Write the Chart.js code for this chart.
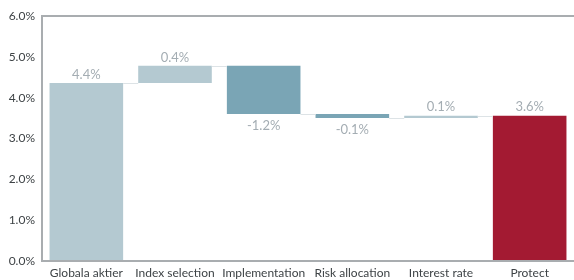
<!DOCTYPE html>
<html>
<head>
<meta charset="utf-8">
<script src="https://cdn.jsdelivr.net/npm/chart.js@4.4.1/dist/chart.umd.min.js"></script>
<style>
html,body{margin:0;padding:0;background:#fff;}
#wrap{width:574px;height:280px;}
</style>
</head>
<body>
<div id="wrap"><canvas id="waterfall" width="574" height="280"></canvas></div>
<script>

// DATA

const categories = ["Globala aktier","Index selection","Implementation","Risk allocation","Interest rate","Protect"];
const changes = [4.36, 0.42, -1.18, -0.10, 0.06];
const totalValue = 3.56;
const yTicks = [0,1,2,3,4,5,6];

const lightBlue = "#b4c9d1";
const darkBlue = "#7aa5b5";
const red = "#a31a32";
const barColors = [lightBlue, lightBlue, darkBlue, darkBlue, lightBlue, red];


// BUILD FLOATING BARS

const ranges = [];
let running = 0;
changes.forEach(c=>{
ranges.push([running, running + c]);
running += c;
});
ranges.push([0, totalValue]);

const labelValues = [...changes, totalValue];


// CONNECTOR LINES + VALUE LABELS

const waterfallPlugin = {
id:"waterfallExtras",
afterDatasetsDraw(chart){
const ctx = chart.ctx;
const y = chart.scales.y;
const bars = chart.getDatasetMeta(0).data;

ctx.save();
ctx.strokeStyle = "#dde3e6";
ctx.lineWidth = 1;
for(let i=0;i<bars.length-1;i++){
const level = y.getPixelForValue(ranges[i][1]);
const x1 = bars[i].x + bars[i].width/2;
const x2 = bars[i+1].x - bars[i+1].width/2;
ctx.beginPath();
ctx.moveTo(x1, Math.round(level)+0.5);
ctx.lineTo(x2, Math.round(level)+0.5);
ctx.stroke();
}

ctx.fillStyle = "#a4adb3";
ctx.font = "13px Lato, 'Open Sans', sans-serif";
ctx.textAlign = "center";
bars.forEach((bar,i)=>{
const v = labelValues[i];
const txt = v.toFixed(1) + "%";
const top = y.getPixelForValue(Math.max(ranges[i][0], ranges[i][1]));
const bottom = y.getPixelForValue(Math.min(ranges[i][0], ranges[i][1]));
if(v >= 0){
ctx.textBaseline = "bottom";
ctx.fillText(txt, bar.x, top - 2);
}else{
ctx.textBaseline = "top";
ctx.fillText(txt, bar.x, bottom + 5);
}
});
ctx.restore();
}
};


// CHART

new Chart(document.getElementById("waterfall"),{
type:"bar",
data:{
labels:categories,
datasets:[{
data:ranges,
backgroundColor:barColors,
borderWidth:0,
categoryPercentage:1,
barPercentage:0.83
}]
},
options:{
responsive:false,
animation:false,
layout:{padding:{top:16,right:0,left:0,bottom:0}},
plugins:{
legend:{display:false},
tooltip:{enabled:false}
},
scales:{
x:{
grid:{display:false,drawTicks:false},
border:{display:true,color:"#a9adb0",width:2},
ticks:{
color:"#3e4346",
font:{family:"Lato, 'Open Sans', sans-serif",size:12},
padding:5,
maxRotation:0,
autoSkip:false
},
afterFit(scale){ scale.height = 19; }
},
y:{
min:0,
max:6,
afterBuildTicks(scale){ scale.ticks = yTicks.map(v=>({value:v})); },
grid:{
drawTicks:false,
color:ctx=>ctx.tick && ctx.tick.value===6 ? "#a9adb0" : "transparent",
lineWidth:2
},
border:{display:true,color:"#a9adb0",width:2},
ticks:{
color:"#3e4346",
font:{family:"Lato, 'Open Sans', sans-serif",size:12},
padding:7,
callback:v=>v.toFixed(1)+"%"
},
afterFit(scale){ scale.width = 42; }
}
}
},
plugins:[waterfallPlugin]
});

</script>
</body>
</html>
